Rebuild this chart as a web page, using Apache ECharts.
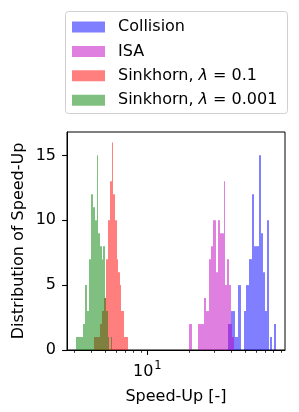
<!DOCTYPE html>
<html><head><meta charset="utf-8">
<script src="https://cdn.jsdelivr.net/npm/echarts@6/dist/echarts.min.js"></script>
<style>html,body{margin:0;padding:0;background:#fff}#c{width:299px;height:412px}</style>
</head><body><div id="c"></div>
<script>
// ---- data ----
const seriesNames = ['Collision', 'ISA', 'Sinkhorn, λ = 0.1', 'Sinkhorn, λ = 0.001'];
// histogram ranges [min, max] of Speed-Up; each split into equal-width bins (one per count)
const collisionRange = [37.5, 82.6];
const collisionCounts = [2,3,1,5,0,3,5,7,12,8,8,15,9,6,3,10,0,1,0,2];
const isaRange = [19.95, 41.6];
const isaCounts = [2,0,0,2,2,4,3,7,8,10,6,10,9,9,13,5,7,5,2,1];
const sink01Range = [4.162, 7.28];
const sink01Counts = [1,1,1,2,3,4,7,10,13,16,12,10,7,6,5,3,3,1,1,1];
const sink0001Range = [3.111, 5.596];
const sink0001Counts = [1,1,1,2,5,3,7,12,11,10,15,9,8,7,8,4,3,1,0,1];
const xMinorTicks = [3,4,5,6,7,8,9,20,30,40,50,60,70,80,90];
const xMajorTicks = [10];
const xLimits = [2.670, 96.3];
const yTicks = [0, 5, 10, 15];
const yLimits = [0, 16.8];

// ---- styling ----
const colors = ['rgba(0,0,255,0.5)', 'rgba(191,0,191,0.5)', 'rgba(255,0,0,0.5)', 'rgba(0,128,0,0.5)'];
const FONT = 'DejaVu Sans';
const FS = 16;
const lg = Math.log10;

function binsFrom(range, counts) {
  const n = counts.length, w = (range[1] - range[0]) / n;
  const out = [];
  for (let i = 0; i < n; i++) {
    if (counts[i] > 0) out.push([lg(range[0] + i * w), lg(range[0] + (i + 1) * w), counts[i]]);
  }
  return out;
}
const hists = [
  binsFrom(collisionRange, collisionCounts),
  binsFrom(isaRange, isaCounts),
  binsFrom(sink01Range, sink01Counts),
  binsFrom(sink0001Range, sink0001Counts)
];

function renderItem(params, api) {
  const p0 = api.coord([api.value(0), api.value(2)]);
  const p1 = api.coord([api.value(1), 0]);
  const x0 = Math.round(p0[0]), x1 = Math.round(p1[0]);
  return {
    type: 'rect',
    shape: {x: x0, y: p0[1], width: Math.max(1, x1 - x0), height: p1[1] - p0[1]},
    style: {fill: api.visual('color')}
  };
}

const chart = echarts.init(document.getElementById('c'), null, {renderer: 'canvas'});
const xBase = {
  type: 'value', min: lg(xLimits[0]), max: lg(xLimits[1]), position: 'bottom',
  splitLine: {show: false}
};
chart.setOption({
  animation: false,
  backgroundColor: '#fff',
  grid: {left: 67, right: 14, top: 132, bottom: 62, show: true, borderColor: '#000', borderWidth: 1, backgroundColor: 'transparent'},
  graphic: [{
    type: 'rect', z: 0, silent: true,
    shape: {x: 65.5, y: 11.5, width: 222, height: 102, r: 3},
    style: {fill: '#fff', stroke: '#d0d0d0', lineWidth: 1}
  }],
  legend: {
    orient: 'vertical', left: 65, top: 12, icon: 'rect',
    itemWidth: 33, itemHeight: 11, itemGap: 8.4,
    padding: [7, 9, 5, 7],
    z: 5,
    data: seriesNames,
    formatter: n => n.replace('λ', '{i|λ}'),
    textStyle: {fontFamily: FONT, fontSize: FS, color: '#000', lineHeight: 16, padding: [0, 0, 0, 8],
      rich: {i: {fontFamily: FONT, fontStyle: 'italic', fontSize: FS, color: '#000', lineHeight: 16}}}
  },
  xAxis: [
    Object.assign({}, xBase, {
      axisLine: {show: true, lineStyle: {color: '#000', width: 1}},
      axisTick: {show: true, customValues: xMinorTicks.map(lg), length: 2.8, lineStyle: {color: '#000', width: 0.8}},
      axisLabel: {show: false},
      z: 10
    }),
    Object.assign({}, xBase, {
      axisLine: {show: false},
      axisTick: {show: true, customValues: xMajorTicks.map(lg), length: 4.9, lineStyle: {color: '#000', width: 1.1}},
      axisLabel: {show: true, customValues: xMajorTicks.map(lg), margin: 10,
        formatter: v => '{b|10}{s|' + Math.round(v) + '}',
        rich: {
          b: {fontFamily: FONT, fontSize: FS, color: '#000', lineHeight: 20, verticalAlign: 'bottom'},
          s: {fontFamily: FONT, fontSize: 11.5, color: '#000', lineHeight: 20, verticalAlign: 'top', padding: [0, 0, 0, 1]}
        }},
      name: 'Speed-Up [-]', nameLocation: 'middle', nameGap: 39, nameMoveOverlap: false,
      nameTextStyle: {fontFamily: FONT, fontSize: FS, color: '#000'},
      z: 10
    })
  ],
  yAxis: {
    type: 'value', min: yLimits[0], max: yLimits[1],
    splitLine: {show: false},
    axisLine: {show: true, lineStyle: {color: '#000', width: 1}},
    axisTick: {show: true, customValues: yTicks, length: 4.9, lineStyle: {color: '#000', width: 1.1}},
    axisLabel: {customValues: yTicks, margin: 11, fontFamily: FONT, fontSize: FS, color: '#000'},
    name: 'Distribution of Speed-Up', nameLocation: 'middle', nameGap: 40, nameMoveOverlap: false,
    nameTextStyle: {fontFamily: FONT, fontSize: FS, color: '#000'},
    z: 10
  },
  series: hists.map((d, k) => ({
    type: 'custom', name: seriesNames[k], xAxisIndex: 0, yAxisIndex: 0,
    renderItem: renderItem, clip: true,
    itemStyle: {color: colors[k]},
    encode: {x: [0, 1], y: 2},
    data: d
  }))
});
</script>
</body></html>
